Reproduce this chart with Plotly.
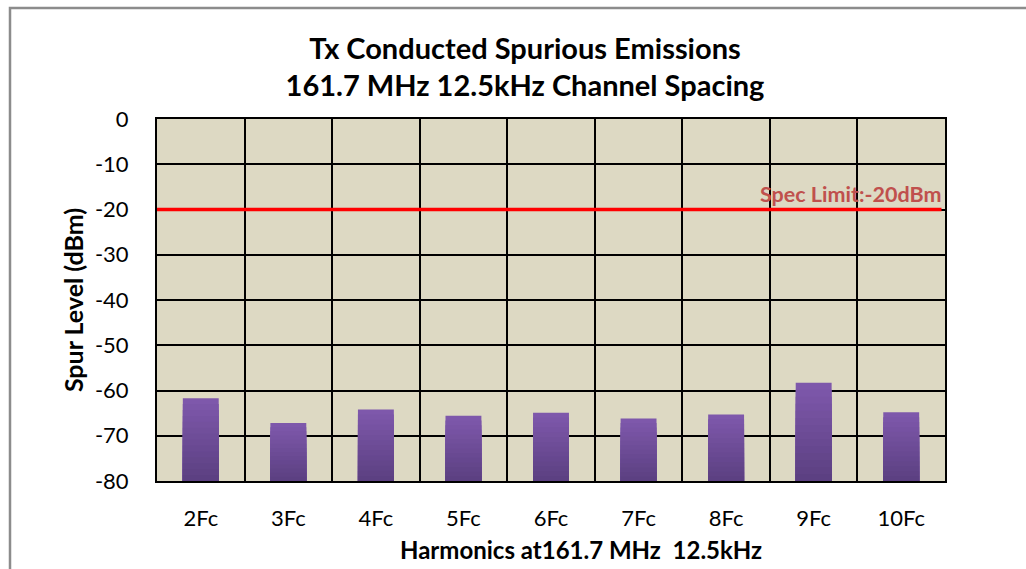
import plotly.graph_objects as go

categories = ["2Fc", "3Fc", "4Fc", "5Fc", "6Fc", "7Fc", "8Fc", "9Fc", "10Fc"]
spur_dbm = [-61.7, -67.2, -64.2, -65.6, -64.9, -66.2, -65.3, -58.3, -64.8]
spec_limit = -20
y_floor = -80
y_ticks = [0, -10, -20, -30, -40, -50, -60, -70, -80]

FONT = "Lato"
fig = go.Figure()

# gradient bars: overlay progressively shorter, darker bars from the floor
top_rgb = (126, 88, 171)
bot_rgb = (92, 64, 130)
steps = 14
heights = [v - y_floor for v in spur_dbm]
for i in range(steps):
    frac = 1 - i / steps
    t = i / (steps - 1)
    c = tuple(round(top_rgb[k] + (bot_rgb[k] - top_rgb[k]) * t) for k in range(3))
    fig.add_trace(go.Bar(
        x=categories, y=[h * frac for h in heights], base=y_floor,
        marker=dict(color="rgb(%d,%d,%d)" % c, line=dict(width=0)),
        width=0.41, showlegend=False, hoverinfo="skip" if i else None,
    ))

# spec limit line
fig.add_trace(go.Scatter(
    x=[-0.5, 8.46], y=[spec_limit, spec_limit], mode="lines",
    line=dict(color="#FF0000", width=3.5), showlegend=False,
    xaxis="x2",
))

fig.add_annotation(
    text="<b>Spec Limit:-20dBm</b>", x=0.9975, xref="paper", xanchor="right",
    y=spec_limit, yref="y", yanchor="bottom", yshift=1, showarrow=False,
    font=dict(family=FONT, size=21.5, color="#C0504D"),
)

# x-axis title (offset to the right as in the original)
fig.add_annotation(
    text="<b>Harmonics at161.7 MHz  12.5kHz</b>", x=(581 - 157) / 788, xref="paper",
    xanchor="center", y=-(549 - 481) / 362, yref="paper", yanchor="middle",
    showarrow=False, font=dict(family=FONT, size=24, color="black"),
)

# outer frame
fig.add_shape(type="rect", xref="paper", yref="paper",
              x0=(10 - 157) / 788, x1=1.12, y0=-0.27, y1=(481 - 8) / 362,
              line=dict(color="#8C8C8C", width=2.5), fillcolor="rgba(0,0,0,0)", layer="below")

fig.update_layout(
    width=1026, height=569,
    margin=dict(l=157, r=81, t=119, b=88),
    paper_bgcolor="white", plot_bgcolor="#DDD9C3",
    barmode="overlay",
    title=dict(text="<b>Tx Conducted Spurious Emissions<br>161.7 MHz 12.5kHz Channel Spacing</b>",
               x=525 / 1026, xanchor="center", y=1 - 58.5 / 569, yanchor="middle",
               font=dict(family=FONT, size=29, color="black")),
    font=dict(family=FONT, color="black"),
    xaxis=dict(
        type="category", tickson="boundaries", ticks="", showgrid=True,
        gridcolor="black", gridwidth=2, showline=True, linecolor="black",
        linewidth=2, mirror=True, tickfont=dict(size=22), ticklabelstandoff=17,
        range=[-0.5, 8.5],
    ),
    xaxis2=dict(overlaying="x", range=[-0.5, 8.5], visible=False),
    yaxis=dict(
        range=[y_floor, 0], tickvals=y_ticks, ticktext=[str(t) for t in y_ticks],
        showgrid=True, gridcolor="black", gridwidth=2, zeroline=False,
        showline=True, linecolor="black", linewidth=2, mirror=True,
        ticks="", tickfont=dict(size=22), ticklabelstandoff=22,
        title=dict(text="<b>Spur Level (dBm)</b>", font=dict(size=25), standoff=4),
    ),
)

fig.write_html("out.html", config={"displayModeBar": False},
               post_script="document.body.style.margin='0px';")
